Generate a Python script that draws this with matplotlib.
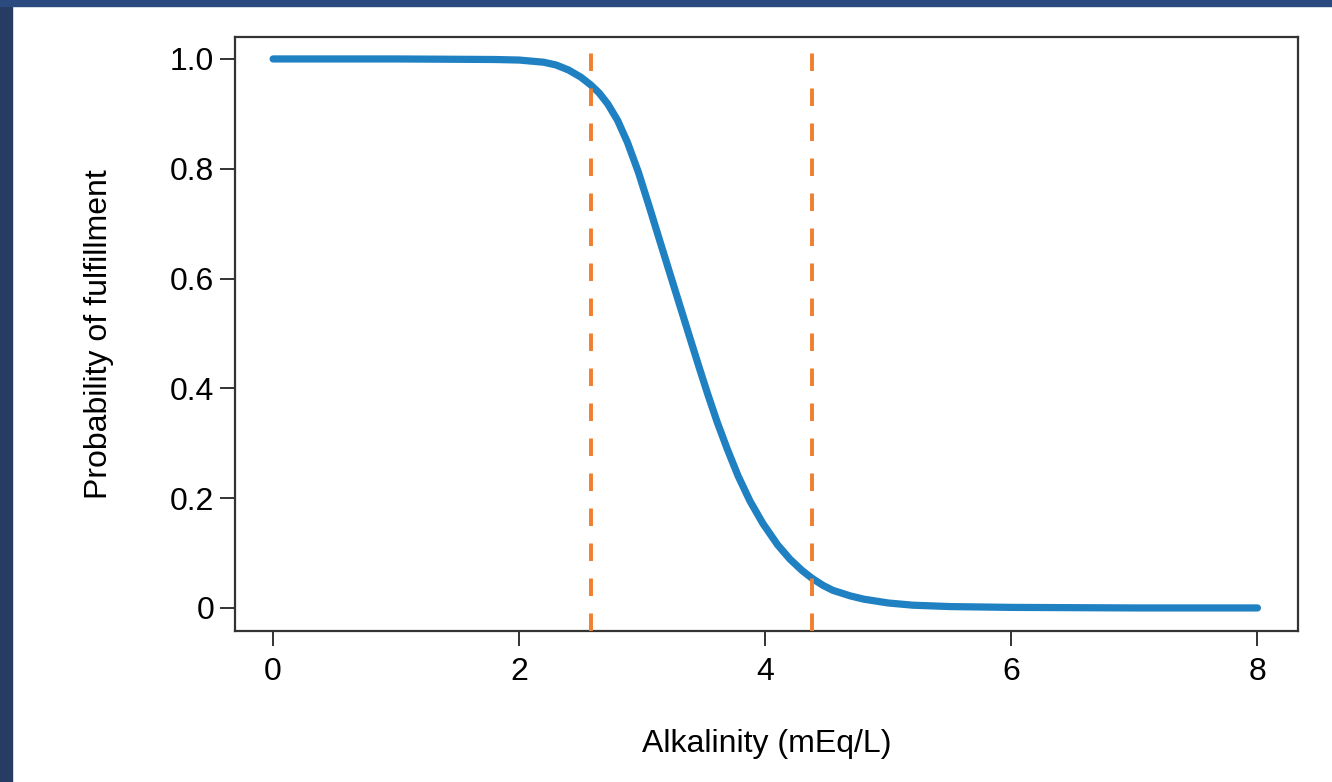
import matplotlib
matplotlib.use("Agg")
import matplotlib.pyplot as plt
from matplotlib.patches import Rectangle

# curve
alk = [0.0, 1.0, 1.8, 2.0, 2.2, 2.3, 2.4, 2.5, 2.58, 2.65, 2.72, 2.80, 2.88,
       2.97, 3.06, 3.13, 3.21, 3.30, 3.40, 3.46, 3.53, 3.61, 3.69, 3.78,
       3.875, 3.98, 4.10, 4.20, 4.30, 4.38, 4.47, 4.55, 4.69, 4.8, 5.0, 5.2,
       5.5, 6.0, 7.0, 8.0]
prob = [1.0, 1.0, 0.999, 0.998, 0.994, 0.989, 0.98, 0.967, 0.953, 0.938,
        0.918, 0.888, 0.848, 0.793, 0.729, 0.678, 0.62, 0.555, 0.483, 0.44,
        0.391, 0.338, 0.29, 0.24, 0.195, 0.154, 0.115, 0.089, 0.068, 0.054,
        0.041, 0.032, 0.022, 0.016, 0.009, 0.005, 0.0025, 0.001, 0.0, 0.0]
cutoffs = [2.58, 4.38]

xticks = [0, 2, 4, 6, 8]
yticks = [0, 0.2, 0.4, 0.6, 0.8, 1.0]
ylabels = ["0", "0.2", "0.4", "0.6", "0.8", "1.0"]

plt.rcParams['font.family'] = ['Liberation Sans', 'DejaVu Sans']

fig = plt.figure(figsize=(13.32, 7.82), dpi=100)
# dark slide frame
fig.patches.append(Rectangle((0, 0), 12 / 1332, 1, transform=fig.transFigure,
                             color='#263c62', zorder=0))
fig.patches.append(Rectangle((0, 1 - 6 / 782), 1, 6 / 782, transform=fig.transFigure,
                             color='#2a4a80', zorder=0))

ax = fig.add_axes([0.1764, 0.1931, 0.9745 - 0.1764, 0.9527 - 0.1931])
ax.plot(alk, prob, color='#1f80c2', lw=5.2, solid_capstyle='round',
        solid_joinstyle='round', zorder=2)
for c in cutoffs:
    ax.axvline(c, color='#f07f2e', lw=2.8, dashes=(4.5, 4.5), zorder=3)

ax.set_xlim(-0.31, 8.33)
ax.set_ylim(-0.042, 1.04)
ax.set_xticks(xticks)
ax.set_yticks(yticks)
ax.set_yticklabels(ylabels)
ax.tick_params(axis='both', labelsize=23, length=11, width=1.4, color='#333333')
ax.tick_params(axis='x', pad=8)
ax.tick_params(axis='y', pad=4)
for s in ax.spines.values():
    s.set_linewidth(1.6)
    s.set_color('#333333')

ax.set_xlabel("Alkalinity (mEq/L)", fontsize=23, labelpad=30)
ax.set_ylabel("Probability of fulfillment", fontsize=23, labelpad=40)

fig.savefig("out.png", dpi=100)
